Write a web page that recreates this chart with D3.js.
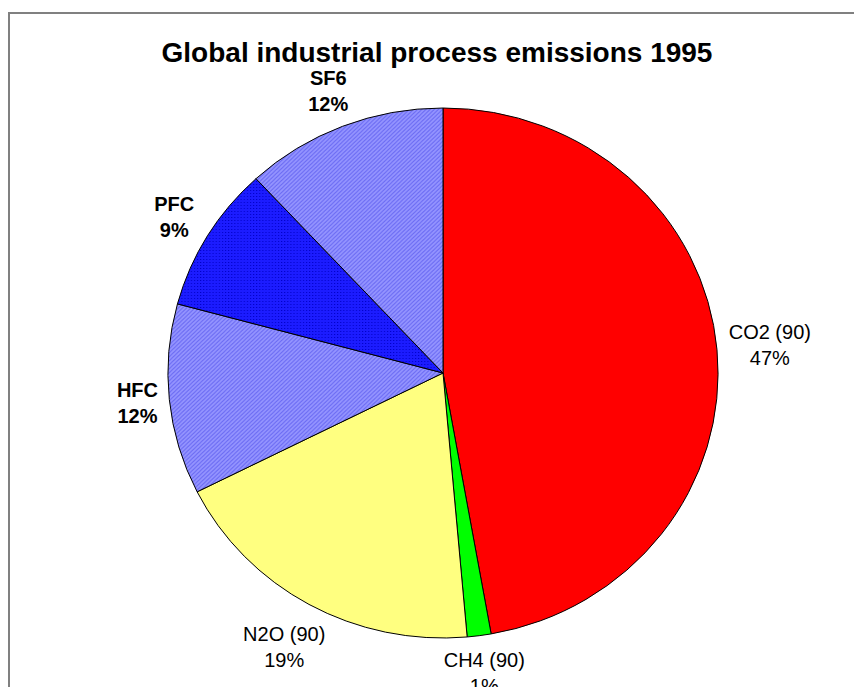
<!DOCTYPE html>
<html>
<head>
<meta charset="utf-8">
<script src="https://cdn.jsdelivr.net/npm/d3@7"></script>
<style>
  body { margin: 0; background: #fff; }
  svg { display: block; font-family: "Liberation Sans", Arial, sans-serif; }
</style>
</head>
<body>
<div id="chart"></div>
<script>
// Gas shares, read clockwise from 12 o'clock.
const gases = ["CO2 (90)", "CH4 (90)", "N2O (90)", "HFC", "PFC", "SF6"];
const shares = [47.2, 1.4, 19.0, 11.6, 8.9, 11.9];
const boldLabel = [false, false, false, true, true, true];
const sliceFill = ["#ff0000", "#00ff00", "#ffff80", "url(#hatchLight)", "url(#hatchDark)", "url(#hatchLight)"];

const W = 854, H = 687;
const CX = 443, CY = 373, R = 265, SX = 1.038;

const svg = d3.select("#chart").append("svg")
    .attr("width", W)
    .attr("height", H);

// Fill patterns that mimic the old office hatching.
const defs = svg.append("defs");
const light = defs.append("pattern")
    .attr("id", "hatchLight")
    .attr("patternUnits", "userSpaceOnUse")
    .attr("width", 4).attr("height", 4);
light.append("rect").attr("width", 4).attr("height", 4).attr("fill", "#9494ff");
light.append("path").attr("d", "M-1,1 L1,-1 M0,4 L4,0 M3,5 L5,3")
    .attr("stroke", "#6c6cf4").attr("stroke-width", 1.1);

const dark = defs.append("pattern")
    .attr("id", "hatchDark")
    .attr("patternUnits", "userSpaceOnUse")
    .attr("width", 3).attr("height", 3);
dark.append("rect").attr("width", 3).attr("height", 3).attr("fill", "#1c1cff");
dark.append("rect").attr("width", 1).attr("height", 1).attr("fill", "#0000c8");

// Chart frame, cut off by the window on the right and bottom.
svg.append("rect")
    .attr("x", 9).attr("y", 13)
    .attr("width", W + 20).attr("height", H + 20)
    .attr("fill", "none")
    .attr("stroke", "#808080")
    .attr("stroke-width", 2);

svg.append("text")
    .attr("x", 437).attr("y", 62)
    .attr("text-anchor", "middle")
    .style("font-size", "28px")
    .style("font-weight", "bold")
    .text("Global industrial process emissions 1995");

const data = gases.map((g, i) => ({ name: g, value: shares[i], bold: boldLabel[i], fill: sliceFill[i] }));

const pie = d3.pie().sort(null).value(d => d.value);
const arc = d3.arc().innerRadius(0).outerRadius(R);
const arcs = pie(data);

const pieG = svg.append("g")
    .attr("transform", `translate(${CX}, ${CY}) scale(${SX}, 1)`);

pieG.selectAll("path")
    .data(arcs)
    .join("path")
    .attr("d", arc)
    .attr("fill", d => d.data.fill)
    .attr("stroke", "#000")
    .attr("stroke-width", 1)
    .attr("vector-effect", "non-scaling-stroke");

// Labels sit just outside the rim; their box is pushed out by its own size.
const total = d3.sum(shares);
const labelG = svg.append("g");
arcs.forEach(a => {
    const mid = (a.startAngle + a.endAngle) / 2;
    const t = labelG.append("text")
        .attr("text-anchor", "middle")
        .style("font-size", "20px")
        .style("font-weight", a.data.bold ? "bold" : "normal");
    t.append("tspan").attr("x", 0).attr("dy", 0).text(a.data.name);
    t.append("tspan").attr("x", 0).attr("dy", 26)
        .text(Math.round(a.data.value / total * 100) + "%");
    const bb = t.node().getBBox();
    const s = Math.sin(mid), c = -Math.cos(mid);
    const off = R + 8 + Math.abs(s) * bb.width / 2 + Math.abs(c) * bb.height / 2;
    const px = CX + s * off * SX;
    const py = CY + c * off;
    const cy0 = bb.y + bb.height / 2;
    t.attr("transform", `translate(${px}, ${py - cy0})`);
});
</script>
</body>
</html>
